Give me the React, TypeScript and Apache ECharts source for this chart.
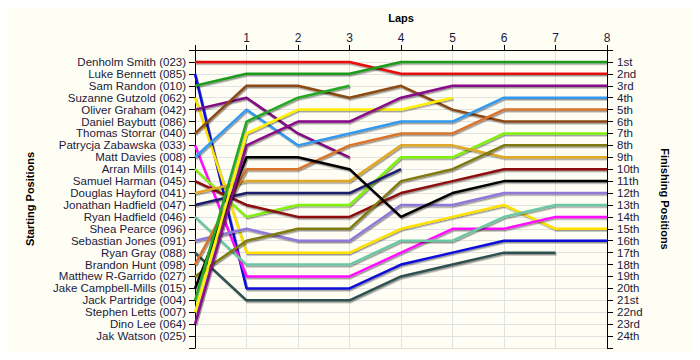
import React, { useEffect, useRef } from "react";
import * as echarts from "echarts";

const laps = [0, 1, 2, 3, 4, 5, 6, 7, 8];

const drivers = [
  "Denholm Smith (023)",
  "Luke Bennett (085)",
  "Sam Randon (010)",
  "Suzanne Gutzold (062)",
  "Oliver Graham (042)",
  "Daniel Baybutt (086)",
  "Thomas Storrar (040)",
  "Patrycja Zabawska (033)",
  "Matt Davies (008)",
  "Arran Mills (014)",
  "Samuel Harman (045)",
  "Douglas Hayford (041)",
  "Jonathan Hadfield (047)",
  "Ryan Hadfield (046)",
  "Shea Pearce (096)",
  "Sebastian Jones (091)",
  "Ryan Gray (088)",
  "Brandon Hunt (098)",
  "Matthew R-Garrido (027)",
  "Jake Campbell-Mills (015)",
  "Jack Partridge (004)",
  "Stephen Letts (007)",
  "Dino Lee (064)",
  "Jak Watson (025)",
];

const finishLabels = [
  "1st", "2nd", "3rd", "4th", "5th", "6th", "7th", "8th", "9th", "10th", "11th", "12th",
  "13th", "14th", "15th", "16th", "17th", "18th", "19th", "20th", "21st", "22nd", "23rd", "24th",
];

// positions by lap (0..8); null = not running
const denholmSmith = [1, 1, 1, 1, 2, 2, 2, 2, 2];
const lukeBennett = [2, 20, 20, 20, 18, 17, 16, 16, 16];
const samRandon = [3, 2, 2, 2, 1, 1, 1, 1, 1];
const suzanneGutzold = [4, 17, 17, 17, 15, 14, 13, 15, 15];
const oliverGraham = [5, 4, 7, 9, null, null, null, null, null];
const thomasStorrar = [7, 3, 3, 4, 3, 5, 6, 6, 6];
const patrycjaZabawska = [8, 19, 19, 19, 17, 15, 15, 14, 14];
const mattDavies = [9, 5, 8, 7, 6, 6, 4, 4, 4];
const arranMills = [10, 14, 13, 13, 9, 9, 7, 7, 7];
const samuelHarman = [11, 13, 14, 14, 12, 11, 10, 10, 10];
const douglasHayford = [12, 11, 11, 11, 8, 8, 9, 9, 9];
const jonathanHadfield = [13, 12, 12, 12, 10, null, null, null, null];
const ryanHadfield = [14, 18, 18, 18, 16, 16, 14, 13, 13];
const sebastianJones = [16, 15, 16, 16, 13, 13, 12, 12, 12];
const ryanGray = [17, 21, 21, 21, 19, 18, 17, 17, null];
const brandonHunt = [18, 10, 10, 8, 7, 7, 5, 5, 5];
const matthewRGarrido = [19, 16, 15, 15, 11, 10, 8, 8, 8];
const jakeCampbellMills = [20, 9, 9, 10, 14, 12, 11, 11, 11];
const jackPartridge = [21, 6, 4, 3, null, null, null, null, null];
const stephenLetts = [22, 7, 5, 5, 5, 4, null, null, null];
const dinoLee = [23, 8, 6, 6, 4, 3, 3, 3, 3];

const seriesList: { name: string; pos: (number | null)[]; color: string }[] = [
  { name: drivers[0], pos: denholmSmith, color: "#e81010" },
  { name: drivers[1], pos: lukeBennett, color: "#0a0ad8" },
  { name: drivers[2], pos: samRandon, color: "#1c9a1c" },
  { name: drivers[3], pos: suzanneGutzold, color: "#ffe100" },
  { name: drivers[4], pos: oliverGraham, color: "#800a80" },
  { name: drivers[6], pos: thomasStorrar, color: "#8a4a12" },
  { name: drivers[7], pos: patrycjaZabawska, color: "#ff10ff" },
  { name: drivers[8], pos: mattDavies, color: "#3399f0" },
  { name: drivers[9], pos: arranMills, color: "#80f010" },
  { name: drivers[10], pos: samuelHarman, color: "#8b0a0a" },
  { name: drivers[11], pos: douglasHayford, color: "#e0a828" },
  { name: drivers[12], pos: jonathanHadfield, color: "#1c1c6c" },
  { name: drivers[13], pos: ryanHadfield, color: "#6cc8a4" },
  { name: drivers[15], pos: sebastianJones, color: "#9078d8" },
  { name: drivers[16], pos: ryanGray, color: "#2f5050" },
  { name: drivers[17], pos: brandonHunt, color: "#d8742c" },
  { name: drivers[18], pos: matthewRGarrido, color: "#7e7a10" },
  { name: drivers[19], pos: jakeCampbellMills, color: "#000000" },
  { name: drivers[20], pos: jackPartridge, color: "#24a824" },
  { name: drivers[21], pos: stephenLetts, color: "#fff000" },
  { name: drivers[22], pos: dinoLee, color: "#880888" },
];

const textColor = "#1a1a3c";
const fontFamily = "'Liberation Sans', Arial, sans-serif";

export default function App() {
  const ref = useRef<HTMLDivElement>(null);
  useEffect(() => {
    if (!ref.current) return;
    const chart = echarts.init(ref.current, null, { renderer: "svg" });
    chart.setOption({
      animation: false,
      backgroundColor: "#fffef4",
      textStyle: { fontFamily },
      grid: { left: 195, right: 93, top: 50, bottom: 12 },
      xAxis: {
        type: "value",
        position: "top",
        min: 0,
        max: 8,
        interval: 1,
        name: "Laps",
        nameLocation: "middle",
        nameGap: 27,
        nameTextStyle: { fontWeight: "bold", fontSize: 11, color: "#000", fontFamily },
        axisLine: { show: true, lineStyle: { color: "#000", width: 1 } },
        axisTick: { show: true, length: 5, lineStyle: { color: "#000" } },
        axisLabel: {
          color: textColor,
          fontSize: 12,
          margin: 6,
          fontFamily,
          formatter: (v: number) => (v === 0 ? "" : String(v)),
        },
        splitLine: { show: true, lineStyle: { color: "#e2e2e2", width: 1 } },
      },
      yAxis: [
        {
          type: "value",
          position: "left",
          inverse: true,
          min: 0,
          max: 25,
          interval: 1,
          name: "Starting Positions",
          nameLocation: "middle",
          nameGap: 160,
          nameTextStyle: { fontWeight: "bold", fontSize: 11, color: "#000", fontFamily },
          axisLine: { show: true, lineStyle: { color: "#000", width: 1 } },
          axisTick: { show: true, length: 6, lineStyle: { color: "#000" } },
          axisLabel: {
            color: textColor,
            fontSize: 11.5,
            lineHeight: 11,
            margin: 9,
            fontFamily,
            formatter: (v: number) => drivers[v - 1] ?? "",
          },
          splitLine: { show: true, lineStyle: { color: "#e2e2e2", width: 1 } },
        },
        {
          type: "value",
          position: "right",
          inverse: true,
          min: 0,
          max: 25,
          interval: 1,
          name: "Finishing Positions",
          nameLocation: "middle",
          nameGap: 52,
          nameRotate: -90,
          nameTextStyle: { fontWeight: "bold", fontSize: 11, color: "#000", fontFamily },
          axisLine: { show: true, lineStyle: { color: "#000", width: 1 } },
          axisTick: { show: true, length: 6, lineStyle: { color: "#000" } },
          axisLabel: {
            color: textColor,
            fontSize: 11.5,
            lineHeight: 11,
            margin: 10,
            fontFamily,
            formatter: (v: number) => finishLabels[v - 1] ?? "",
          },
          splitLine: { show: false },
        },
      ],
      series: seriesList.map((s) => ({
        name: s.name,
        type: "line",
        yAxisIndex: 0,
        showSymbol: false,
        symbol: "none",
        data: laps
          .map((l, i) => [l, s.pos[i]])
          .filter((d) => d[1] !== null && d[1] !== undefined),
        lineStyle: {
          color: s.color,
          width: 2.5,
          shadowColor: "rgba(0,0,0,0.4)",
          shadowOffsetX: 1,
          shadowOffsetY: 1.5,
          shadowBlur: 1,
        },
        itemStyle: { color: s.color },
        emphasis: { disabled: true },
      })),
    });
    return () => chart.dispose();
  }, []);
  return <div ref={ref} style={{ width: 700, height: 360, margin: -8 }} />;
}
